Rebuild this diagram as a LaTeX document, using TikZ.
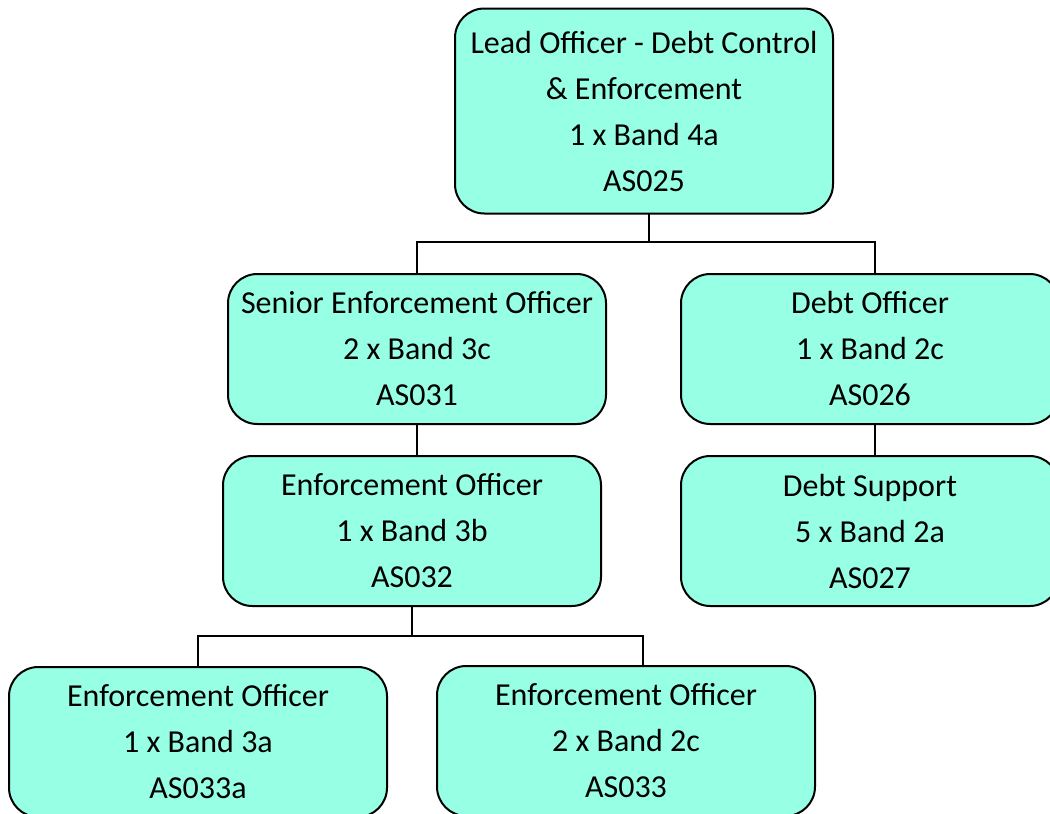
\documentclass[tikz,border=0pt]{standalone}
\usepackage{fontspec}
\setmainfont{Carlito}
\usetikzlibrary{calc}
\definecolor{boxfill}{RGB}{150,255,228}
\begin{document}
\begin{tikzpicture}[x=0.75pt,y=-0.75pt,
  orgbox/.style={draw=black, line width=1.5pt, fill=boxfill, rounded corners=22pt,
    minimum width=378*0.75pt, minimum height=150*0.75pt, align=center, inner sep=0pt,
    font=\fontsize{24pt}{34.5pt}\selectfont},
  link/.style={draw=black, line width=1.3pt}]
\useasboundingbox (0,0) rectangle (1050,814);
\clip (0,0) rectangle (1050,814);
\fill[white] (0,0) rectangle (1050,814);
\node[orgbox, minimum height=205*0.75pt] (top) at (644,111) {Lead Officer - Debt Control\\ \& Enforcement\\ 1 x Band 4a\\ AS025};
\node[orgbox] (senior) at (417,349) {Senior Enforcement Officer\\ 2 x Band 3c\\ AS031};
\node[orgbox] (debt) at (870,349) {Debt Officer\\ 1 x Band 2c\\ AS026};
\node[orgbox] (mid) at (412,531) {Enforcement Officer\\ 1 x Band 3b\\ AS032};
\node[orgbox] (support) at (870,531) {Debt Support\\ 5 x Band 2a\\ AS027};
\node[orgbox] (bl) at (198,742) {Enforcement Officer\\ 1 x Band 3a\\ AS033a};
\node[orgbox] (br) at (626,741) {Enforcement Officer\\ 2 x Band 2c\\ AS033};
\coordinate (tj) at (649,213);
\coordinate (sj) at (417,273);
\coordinate (dj) at (875,273);
\coordinate (dj2) at (875,423);
\coordinate (sj2) at (875,455);
\coordinate (blj) at (198,666);
\coordinate (brj) at (643,665);
\draw[link] (tj) -- (649,242) coordinate (hub1);
\draw[link] (sj) |- (hub1) -| (dj);
\draw[link] (senior.south) -- (senior.south |- mid.north);
\draw[link] (dj2) -- (sj2);
\draw[link] (mid.south) -- (412,636) coordinate (hub2);
\draw[link] (blj) |- (hub2) -| (brj);
\end{tikzpicture}
\end{document}
